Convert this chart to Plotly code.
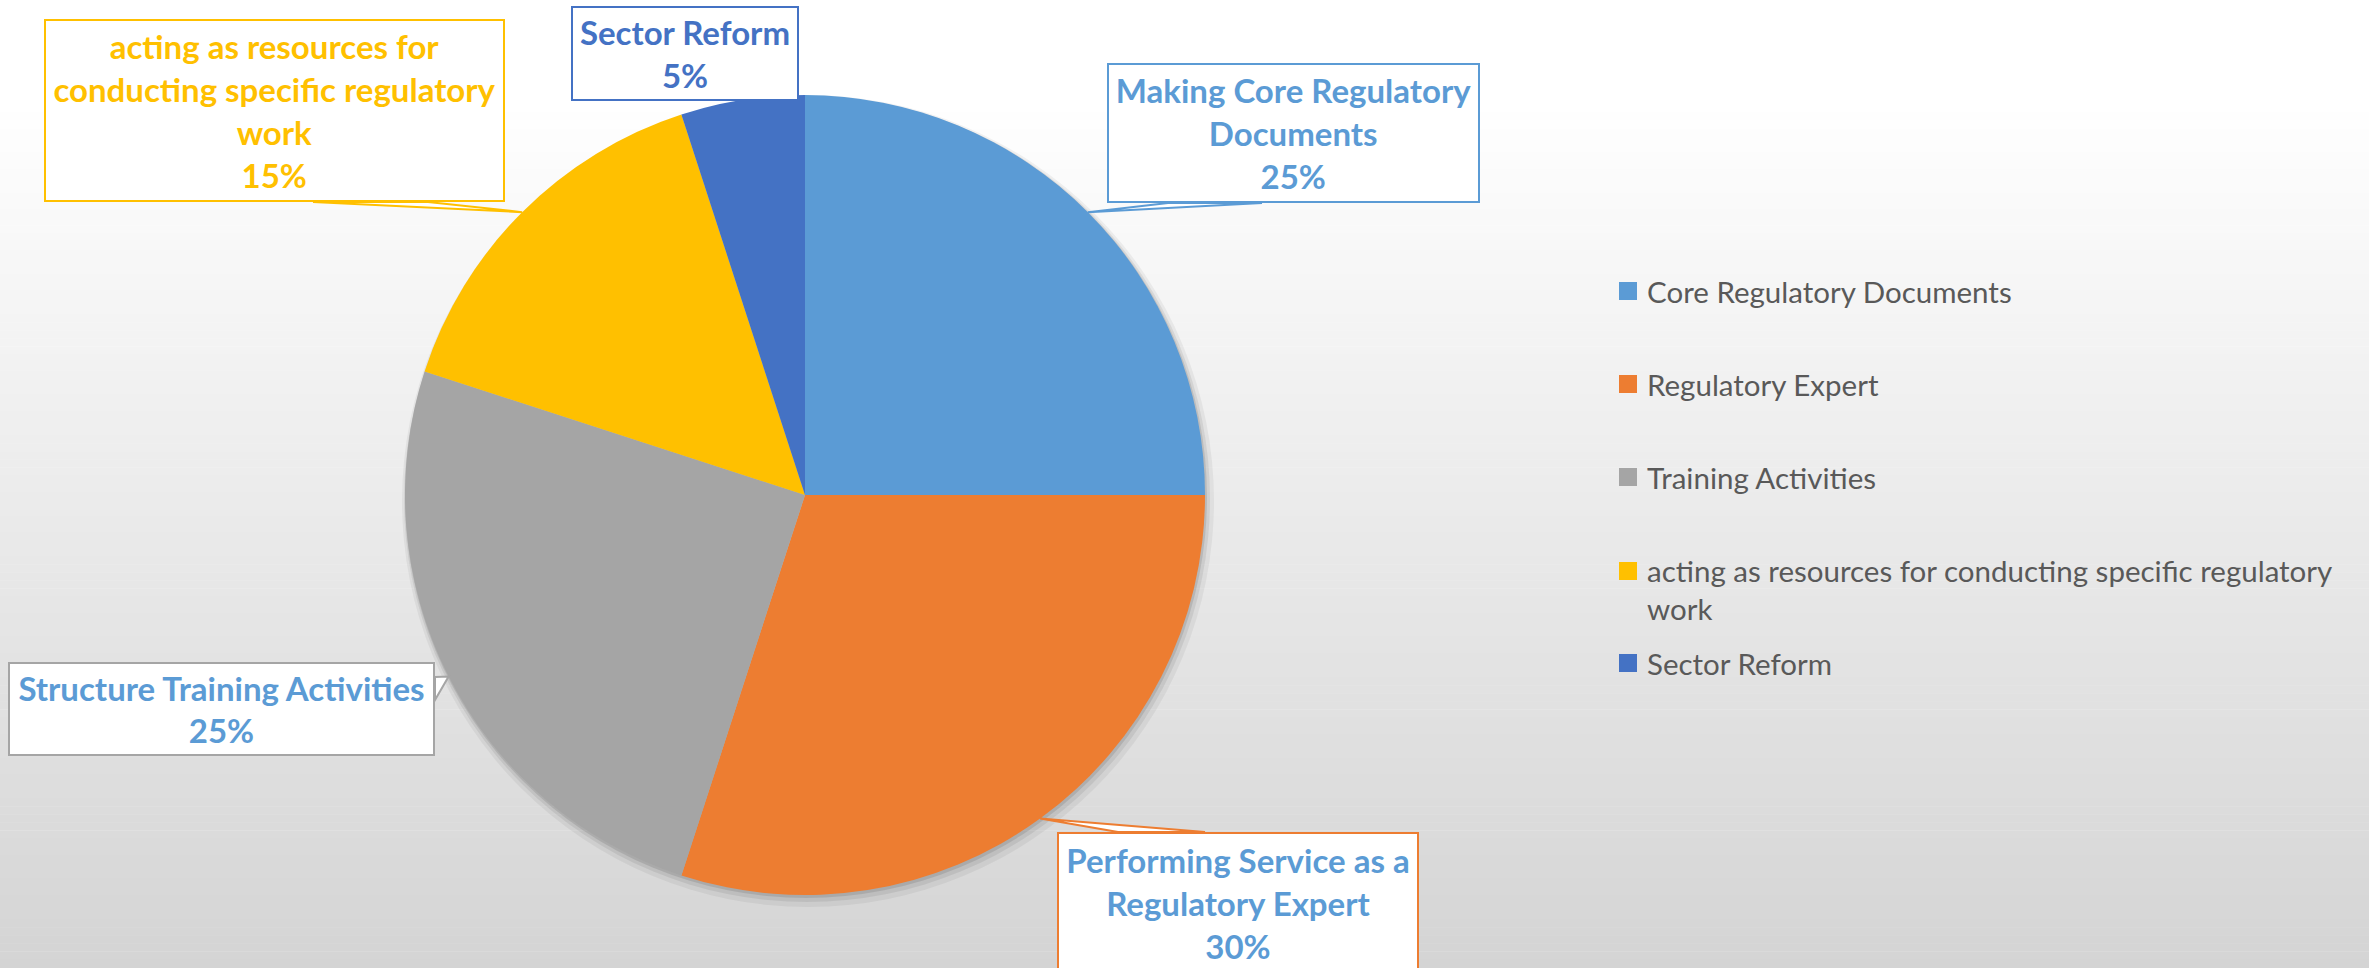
import plotly.graph_objects as go
import math

# ---------------- data ----------------
categories = [
    "Core Regulatory Documents",
    "Regulatory Expert",
    "Training Activities",
    "acting as resources for conducting specific regulatory work",
    "Sector Reform",
]
values = [25, 30, 25, 15, 5]
callout_labels = [
    "Making Core Regulatory<br>Documents",
    "Performing Service as a<br>Regulatory Expert",
    "Structure Training Activities",
    "acting as resources for<br>conducting specific regulatory<br>work",
    "Sector Reform",
]
legend_labels = [
    "Core Regulatory Documents",
    "Regulatory Expert",
    "Training Activities",
    "acting as resources for conducting specific regulatory<br>work",
    "Sector Reform",
]

# ---------------- style ----------------
W, H = 2369, 968
colors = ["#5B9BD5", "#ED7D31", "#A5A5A5", "#FFC000", "#4472C4"]
text_colors = ["#5B9BD5", "#5B9BD5", "#5B9BD5", "#FFC000", "#4472C4"]
CX, CY, R = 805, 495, 400

# callout boxes (x0, y0, x1, y1) in pixels from top-left, and pointer base points
boxes = [
    (1107, 63, 1480, 203),
    (1057, 832, 1419, 974),
    (8, 662, 435, 756),
    (44, 19, 505, 202),
    (571, 6, 799, 101),
]
pointer_bases = [
    ((1168, 203), (1262, 203)),
    ((1118, 832), (1205, 832)),
    ((435, 677), (435, 700)),
    ((313, 202), (428, 202)),
    None,
]


def px(x):
    return x / W


def py(y):
    return 1 - y / H


fig = go.Figure()
fig.add_trace(go.Pie(
    labels=categories,
    values=values,
    sort=False,
    direction="clockwise",
    rotation=0,
    marker=dict(colors=colors, line=dict(width=0)),
    textinfo="none",
    showlegend=False,
    domain=dict(x=[px(CX - R), px(CX + R)], y=[py(CY + R), py(CY - R)]),
))

shapes = []
# background gradient
n_bands = 120
top_start = 100
for i in range(n_bands):
    y0 = i * H / n_bands
    y1 = (i + 1) * H / n_bands
    ym = (y0 + y1) / 2
    t = max(0.0, (ym - top_start) / (H - top_start))
    g = round(255 - 43 * t)
    shapes.append(dict(type="rect", xref="paper", yref="paper",
                       x0=0, x1=1, y0=py(y1), y1=py(y0) + 0.0005,
                       fillcolor=f"rgb({g},{g},{g})", line=dict(width=0),
                       layer="below"))

# soft pie shadow
for off, grow, a in [(6, 6, 0.05), (4, 3, 0.07), (2, 1, 0.10)]:
    shapes.append(dict(type="circle", xref="paper", yref="paper",
                       x0=px(CX - R - grow + off / 2), x1=px(CX + R + grow + off / 2),
                       y0=py(CY + R + grow + off), y1=py(CY - R - grow + off),
                       fillcolor=f"rgba(0,0,0,{a})", line=dict(width=0),
                       layer="below"))

# callout pointers + annotations
total = sum(values)
annotations = []
cum = 0
for i, v in enumerate(values):
    mid = (cum + v / 2) / total * 2 * math.pi
    cum += v
    tipx = CX + R * math.sin(mid)
    tipy = CY - R * math.cos(mid)
    if pointer_bases[i] is not None:
        (ax, ay), (bx, by) = pointer_bases[i]
        path = (f"M {px(ax)},{py(ay)} L {px(tipx)},{py(tipy)} "
                f"L {px(bx)},{py(by)} Z")
        shapes.append(dict(type="path", xref="paper", yref="paper", path=path,
                           fillcolor="white", line=dict(color=colors[i], width=2),
                           layer="above"))
    x0, y0, x1, y1 = boxes[i]
    pct = round(v / total * 100)
    annotations.append(dict(
        x=px((x0 + x1) / 2), y=py((y0 + y1) / 2), xref="paper", yref="paper",
        xanchor="center", yanchor="middle",
        text=f"<b>{callout_labels[i]}<br>{pct}%</b>",
        showarrow=False, align="center", valign="middle",
        width=x1 - x0 - 4, height=y1 - y0 - 4,
        bgcolor="white", bordercolor=colors[i], borderwidth=2, borderpad=0,
        font=dict(family="Lato", size=33, color=text_colors[i]),
    ))

# manual legend
leg_y = [291, 384, 477, 589, 663]
for i, lab in enumerate(legend_labels):
    first_line_y = 571 if "<br>" in lab else leg_y[i]
    shapes.append(dict(type="rect", xref="paper", yref="paper",
                       x0=px(1619), x1=px(1637),
                       y0=py(first_line_y + 9), y1=py(first_line_y - 9),
                       fillcolor=colors[i], line=dict(width=0), layer="above"))
    annotations.append(dict(
        x=px(1645), y=py(leg_y[i]), xref="paper", yref="paper",
        xanchor="left", yanchor="middle", text=lab, showarrow=False,
        align="left", font=dict(family="Lato", size=29.5, color="#595959"),
    ))

fig.update_layout(
    width=W, height=H,
    margin=dict(l=0, r=0, t=0, b=0),
    paper_bgcolor="white", plot_bgcolor="white",
    shapes=shapes, annotations=annotations,
    showlegend=False,
)

fig.write_html(
    "out.html",
    config={"displayModeBar": False},
    post_script="document.body.style.margin='0';document.body.style.overflow='hidden';",
)
